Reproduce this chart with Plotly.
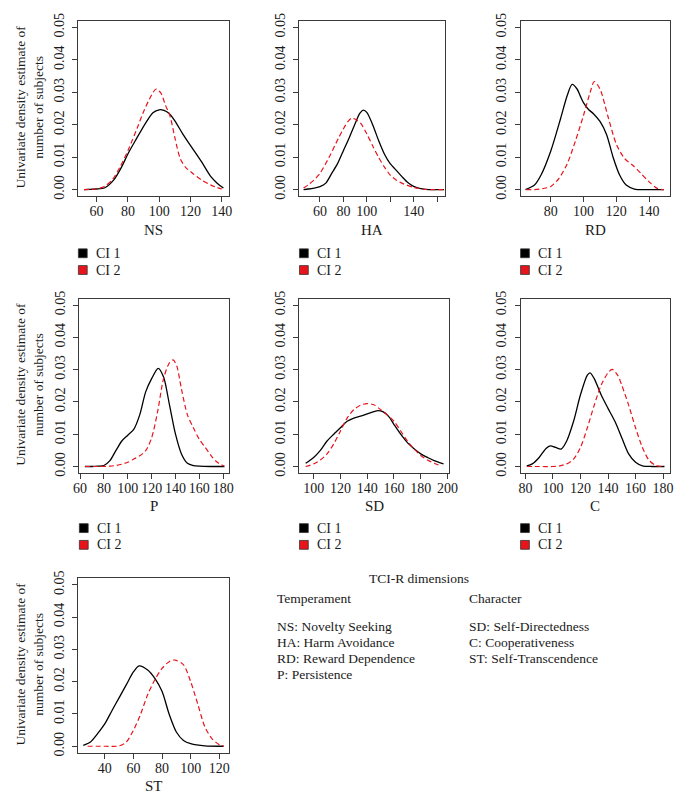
import plotly.graph_objects as go

W, H = 690, 803

# ---------------- data ----------------
ns_ci1_x = [52, 56, 60, 65, 71, 76, 80, 85.5, 91.7, 96, 100, 103, 106, 110, 115, 120.7, 127, 133, 137, 141]
ns_ci1_y = [0, 0.0001, 0.0002, 0.0005, 0.003, 0.007, 0.011, 0.0157, 0.0208, 0.0237, 0.0246, 0.0244, 0.0236,
            0.0212, 0.0172, 0.0131, 0.0086, 0.004, 0.002, 0.0005]
ns_ci2_x = [52, 56, 60, 65, 70, 75, 80, 86, 90, 95, 98, 101, 104, 107, 110, 113.5, 117, 120.7, 127, 133, 140]
ns_ci2_y = [0, 0.0001, 0.0002, 0.001, 0.003, 0.007, 0.012, 0.019, 0.024, 0.029, 0.031, 0.0298, 0.026, 0.0225,
            0.016, 0.0095, 0.0068, 0.0053, 0.003, 0.0014, 0.0002]

ha_ci1_x = [46, 50, 55, 60, 65, 70, 75, 80, 85, 90, 94, 97, 100, 105, 110, 115, 120, 125, 130, 135, 140, 145, 150, 158, 166]
ha_ci1_y = [0, 0.0002, 0.0005, 0.0009, 0.002, 0.005, 0.008, 0.012, 0.016, 0.0203, 0.0235, 0.0245, 0.0238, 0.020,
            0.0152, 0.011, 0.008, 0.006, 0.004, 0.0022, 0.001, 0.0004, 0.0001, 0, 0]
ha_ci2_x = [46, 50, 55, 60, 67.8, 76, 80, 84, 87, 91, 95, 100, 105, 110, 115, 120, 125, 130, 140, 150, 158, 166]
ha_ci2_y = [0.0005, 0.0015, 0.003, 0.005, 0.010, 0.016, 0.0187, 0.021, 0.022, 0.0215, 0.0203, 0.0172, 0.0135,
            0.010, 0.007, 0.0045, 0.003, 0.002, 0.0007, 0.0001, 0, 0]

rd_ci1_x = [64.5, 70, 74, 80, 86, 90, 93, 96, 98, 100, 103, 106, 110, 114, 118, 122, 126, 131, 138, 149]
rd_ci1_y = [0, 0.0014, 0.0045, 0.012, 0.022, 0.029, 0.0324, 0.031, 0.0288, 0.0267, 0.0247, 0.0234, 0.021, 0.017,
            0.010, 0.0045, 0.0014, 0.0002, 0, 0]
rd_ci2_x = [65, 70, 75, 80, 85, 90, 95, 100, 104, 106.5, 110, 115, 120, 125, 130, 135, 140, 145, 149]
rd_ci2_y = [0, 0, 0.0003, 0.001, 0.0035, 0.008, 0.015, 0.023, 0.030, 0.0333, 0.031, 0.0223, 0.014, 0.0096,
            0.0075, 0.005, 0.0024, 0.0004, 0]

p_ci1_x = [64, 70, 75, 80, 85, 90, 95, 100, 105, 110, 115, 120, 125.5, 130, 135, 140, 145, 150, 155, 160, 170, 181]
p_ci1_y = [0, 0, 0.0001, 0.0003, 0.0018, 0.0049, 0.0079, 0.0097, 0.0115, 0.016, 0.0231, 0.0272, 0.0304, 0.0277,
           0.019, 0.010, 0.0039, 0.001, 0.0003, 0.0001, 0, 0]
p_ci2_x = [64, 75, 85, 90, 95, 100, 105, 110, 115, 120, 125, 130, 135, 138, 141, 145, 150, 155, 160, 165, 170, 175, 181]
p_ci2_y = [0, 0, 0.0001, 0.0003, 0.0007, 0.0013, 0.0023, 0.0033, 0.0049, 0.0089, 0.017, 0.0272, 0.0322, 0.033,
           0.0312, 0.024, 0.016, 0.012, 0.0084, 0.0059, 0.0033, 0.0013, 0.0001]

sd_ci1_x = [94, 100, 105, 110, 115, 120, 125, 130, 135, 140, 145, 148, 152, 156, 160, 165, 170, 175, 180, 185, 190, 197]
sd_ci1_y = [0.001, 0.0028, 0.005, 0.0079, 0.010, 0.012, 0.014, 0.015, 0.0156, 0.0163, 0.017, 0.0173, 0.0169,
            0.0155, 0.013, 0.010, 0.0074, 0.0055, 0.0039, 0.0028, 0.0018, 0.0008]
sd_ci2_x = [94, 100, 105, 110, 115, 120, 125, 130, 135, 140, 145, 150, 155, 160, 165, 170, 175, 180, 185, 190, 195]
sd_ci2_y = [0, 0.0008, 0.002, 0.0039, 0.007, 0.011, 0.015, 0.0176, 0.019, 0.0195, 0.0191, 0.0176, 0.016, 0.014,
            0.011, 0.0079, 0.0055, 0.0034, 0.002, 0.001, 0.0002]

c_ci1_x = [81, 85, 90, 95, 98, 102, 106, 110, 115, 120, 125, 127, 130, 135, 140, 145, 150, 155, 160, 165, 172, 181]
c_ci1_y = [0.0002, 0.0008, 0.0028, 0.0056, 0.0064, 0.0059, 0.0054, 0.0079, 0.014, 0.0222, 0.0283, 0.029, 0.0272,
           0.0222, 0.018, 0.014, 0.0089, 0.0039, 0.0013, 0.0002, 0, 0]
c_ci2_x = [81, 90, 100, 105, 110, 115, 120, 125, 130, 135, 140, 143, 147, 150, 155, 160, 165, 170, 175, 181]
c_ci2_y = [0, 0, 0, 0.0002, 0.0008, 0.0023, 0.0059, 0.012, 0.019, 0.0252, 0.029, 0.0301, 0.0283, 0.0252, 0.019,
           0.012, 0.0059, 0.0018, 0.0003, 0]

st_ci1_x = [25, 30, 35, 40, 45, 50, 55, 60, 64, 70, 75, 80, 85, 90, 95, 100, 110, 123]
st_ci1_y = [0.0003, 0.0013, 0.0039, 0.0069, 0.011, 0.015, 0.019, 0.023, 0.0249, 0.0236, 0.021, 0.017, 0.0099,
            0.0044, 0.0018, 0.0008, 0.0001, 0]
st_ci2_x = [28, 40, 50, 55, 60, 65, 70, 75, 80, 85, 89, 95, 100, 105, 110, 115, 120, 123]
st_ci2_y = [0, 0, 0.0001, 0.0013, 0.0049, 0.0099, 0.016, 0.0206, 0.0241, 0.0262, 0.0267, 0.0252, 0.020, 0.013,
            0.0059, 0.0023, 0.0005, 0.0001]

y_ticks = [0, 0.01, 0.02, 0.03, 0.04, 0.05]
y_ticktext = ["0.00", "0.01", "0.02", "0.03", "0.04", "0.05"]

series_names = ["CI 1", "CI 2"]
y_title = "Univariate density estimate of<br>number of subjects"

dimension_header = "TCI-R dimensions"
temperament_title = "Temperament"
temperament_items = ["NS: Novelty Seeking", "HA: Harm Avoidance", "RD: Reward Dependence", "P: Persistence"]
character_title = "Character"
character_items = ["SD: Self-Directedness", "C: Cooperativeness", "ST: Self-Transcendence"]

# ---------------- panels: layout (pixel boxes) ----------------
panels = [
    dict(name="NS", d=(ns_ci1_x, ns_ci1_y, ns_ci2_x, ns_ci2_y), xr=[48.4, 144.6],
         tv=[60, 80, 100, 120, 140], tt=["60", "80", "100", "120", "140"],
         box=(74, 228, 13, 191), leg=249, ylab=True),
    dict(name="HA", d=(ha_ci1_x, ha_ci1_y, ha_ci2_x, ha_ci2_y), xr=[42.5, 167],
         tv=[60, 80, 100, 120, 140, 160], tt=["60", "80", "100", "", "140", ""],
         box=(300, 449, 13, 191), leg=249, ylab=False),
    dict(name="RD", d=(rd_ci1_x, rd_ci1_y, rd_ci2_x, rd_ci2_y), xr=[61.5, 152.9],
         tv=[80, 100, 120, 140], tt=["80", "100", "120", "140"],
         box=(526, 679, 13, 191), leg=249, ylab=False),
    dict(name="P", d=(p_ci1_x, p_ci1_y, p_ci2_x, p_ci2_y), xr=[59.4, 184.9],
         tv=[60, 80, 100, 120, 140, 160, 180], tt=["60", "80", "100", "120", "140", "160", "180"],
         box=(75, 228, 295, 472), leg=528, ylab=True),
    dict(name="SD", d=(sd_ci1_x, sd_ci1_y, sd_ci2_x, sd_ci2_y), xr=[89.4, 201.2],
         tv=[100, 120, 140, 160, 180, 200], tt=["100", "120", "140", "160", "180", "200"],
         box=(300, 453, 295, 472), leg=528, ylab=False),
    dict(name="C", d=(c_ci1_x, c_ci1_y, c_ci2_x, c_ci2_y), xr=[76.5, 185.2],
         tv=[80, 100, 120, 140, 160, 180], tt=["80", "100", "120", "140", "160", "180"],
         box=(526, 679, 295, 472), leg=528, ylab=False),
    dict(name="ST", d=(st_ci1_x, st_ci1_y, st_ci2_x, st_ci2_y), xr=[21.6, 126.8],
         tv=[40, 60, 80, 100, 120], tt=["40", "60", "80", "100", "120"],
         box=(74, 228, 579, 756), leg=None, ylab=True),
]

FONT = "Liberation Serif"
TXT = "#1a1a1a"
AX = "#3a3a3a"
RED = "#e8141c"


def px(x):
    return x / W


def py(y):
    return 1 - y / H


fig = go.Figure()
annotations = []
shapes = []

for i, p in enumerate(panels, start=1):
    x1, y1, x2, y2 = p["d"]
    xa = "x" if i == 1 else f"x{i}"
    ya = "y" if i == 1 else f"y{i}"
    fig.add_trace(go.Scatter(x=x1, y=y1, mode="lines", xaxis=xa, yaxis=ya, showlegend=False,
                             line=dict(color="black", width=1.3, shape="spline", smoothing=0.8),
                             name=series_names[0]))
    fig.add_trace(go.Scatter(x=x2, y=y2, mode="lines", xaxis=xa, yaxis=ya, showlegend=False,
                             line=dict(color=RED, width=1.2, dash="5px,3px", shape="spline", smoothing=0.8),
                             name=series_names[1]))
    l, r, t, b = p["box"]
    xkey = "xaxis" if i == 1 else f"xaxis{i}"
    ykey = "yaxis" if i == 1 else f"yaxis{i}"
    axis_common = dict(showline=True, linecolor=AX, linewidth=1, mirror=True, ticks="outside",
                       ticklen=5, tickwidth=1, tickcolor=AX, showgrid=False, zeroline=False,
                       tickfont=dict(family=FONT, size=14, color=TXT), fixedrange=True)
    fig.update_layout({
        xkey: dict(domain=[px(l), px(r)], anchor=ya, range=p["xr"], tickmode="array",
                   tickvals=p["tv"], ticktext=p["tt"], ticklabelstandoff=-3, **axis_common),
        ykey: dict(domain=[py(b), py(t)], anchor=xa, range=[-0.002, 0.052], tickmode="array",
                   tickvals=y_ticks, ticktext=y_ticktext, tickangle=-90, ticklabelstandoff=3, **axis_common),
    })
    # x-axis label
    annotations.append(dict(x=px((l + r) / 2), y=py(b + 34), xref="paper", yref="paper", text=p["name"],
                            showarrow=False, xanchor="center", yanchor="middle",
                            font=dict(family=FONT, size=15, color=TXT)))
    # y-axis label
    if p["ylab"]:
        annotations.append(dict(x=px(24.5), y=py((t + b) / 2 - 2), xref="paper", yref="paper", text=y_title,
                                textangle=-90, showarrow=False, xanchor="center", yanchor="middle",
                                font=dict(family=FONT, size=13.5, color=TXT)))
    # legend
    if p["leg"] is not None:
        for k, (nm, col) in enumerate(zip(series_names, ["black", RED])):
            cy = p["leg"] + k * 17
            shapes.append(dict(type="rect", xref="paper", yref="paper",
                               x0=px(l), x1=px(l + 9), y0=py(cy + 4.5), y1=py(cy - 4.5),
                               fillcolor=col, line=dict(color="#333", width=0.8)))
            annotations.append(dict(x=px(l + 16), y=py(cy), xref="paper", yref="paper", text=nm,
                                    showarrow=False, xanchor="left", yanchor="middle",
                                    font=dict(family=FONT, size=14, color=TXT)))

# text block
annotations.append(dict(x=px(421.7), y=py(579.3), xref="paper", yref="paper", text=dimension_header,
                        showarrow=False, xanchor="center", yanchor="middle",
                        font=dict(family=FONT, size=13.5, color=TXT)))
annotations.append(dict(x=px(275), y=py(599.5), xref="paper", yref="paper", text=temperament_title,
                        showarrow=False, xanchor="left", yanchor="middle",
                        font=dict(family=FONT, size=13.5, color=TXT)))
annotations.append(dict(x=px(471.5), y=py(599.5), xref="paper", yref="paper", text=character_title,
                        showarrow=False, xanchor="left", yanchor="middle",
                        font=dict(family=FONT, size=13.5, color=TXT)))
for k, s in enumerate(temperament_items):
    annotations.append(dict(x=px(275), y=py(628.3 + k * 16), xref="paper", yref="paper", text=s,
                            showarrow=False, xanchor="left", yanchor="middle",
                            font=dict(family=FONT, size=13.5, color=TXT)))
for k, s in enumerate(character_items):
    annotations.append(dict(x=px(471.5), y=py(628.3 + k * 16), xref="paper", yref="paper", text=s,
                            showarrow=False, xanchor="left", yanchor="middle",
                            font=dict(family=FONT, size=13.5, color=TXT)))

fig.update_layout(width=W, height=H, margin=dict(l=0, r=0, t=0, b=0),
                  paper_bgcolor="white", plot_bgcolor="white", showlegend=False,
                  annotations=annotations, shapes=shapes,
                  font=dict(family=FONT, size=13, color=TXT))

fig.write_html("out.html", config={"displayModeBar": False},
               post_script="document.body.style.margin='0';document.body.style.padding='0';")
